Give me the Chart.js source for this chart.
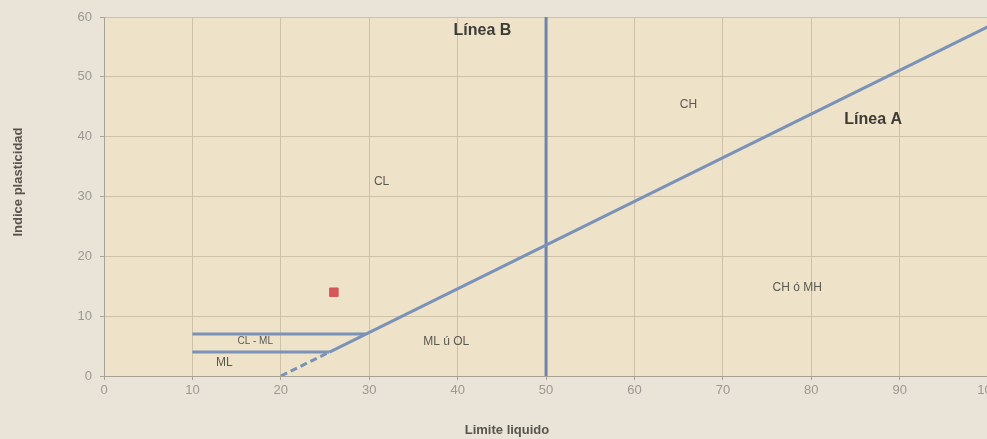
<!DOCTYPE html>
<html><head><meta charset="utf-8">
<script src="https://cdn.jsdelivr.net/npm/chart.js@4/dist/chart.umd.min.js"></script>
<style>
html,body{margin:0;padding:0;overflow:hidden;background:#e9e4d7;}
#wrap{width:1002px;height:439px;position:relative;}
</style></head>
<body><div id="wrap"><canvas id="c" width="1002" height="439"></canvas></div>
<script>
// ---- data ----
const xTicks = [0,10,20,30,40,50,60,70,80,90,100];
const yTicks = [0,10,20,30,40,50,60];
const lineA_LL = [25.5, 100];
const lineA_PI = [4, 58.4];
const lineAdash_LL = [20, 25.5];
const lineAdash_PI = [0, 4];
const lineB_LL = [50, 50];
const lineB_PI = [0, 60];
const clml_LL = [10, 29.6];
const clml_PI = [7, 7];
const ml_LL = [10, 25.5];
const ml_PI = [4, 4];
const sample_LL = [26];
const sample_PI = [14];
const zoneLabels = ["Línea B","Línea A","CH","CL","CH ó MH","ML ú OL","CL - ML","ML"];
const zoneLL = [42.8, 87.0, 66.1, 31.4, 78.4, 38.7, 17.1, 13.6];
const zonePI = [57.8, 42.8, 45.3, 32.4, 14.7, 5.7, 5.8, 2.3];
const xTitle = "Limite liquido";
const yTitle = "Indice plasticidad";

const pts = (xs, ys) => xs.map((x,i)=>({x, y: ys[i]}));
const blue = '#7a92b8';
const FONT = '"Liberation Sans", Arial, sans-serif';

const bgPlugin = {
  id:'bg',
  beforeDraw(chart){
    const {ctx, chartArea:a} = chart;
    ctx.save();
    ctx.fillStyle = '#e9e4d7';
    ctx.fillRect(0,0,chart.width,chart.height);
    ctx.fillStyle = '#eee3c8';
    ctx.fillRect(a.left, a.top, a.right-a.left, a.bottom-a.top);
    ctx.restore();
  },
  afterDraw(chart){
    const {ctx, scales:{x,y}} = chart;
    ctx.save();
    ctx.textAlign='center'; ctx.textBaseline='middle';
    zoneLabels.forEach((t,i)=>{
      const bold = t.startsWith('Línea');
      let size = bold ? 16 : 12;
      if (t === 'CL - ML') size = 10;
      ctx.font = (bold?'bold ':'') + size + 'px ' + FONT;
      ctx.fillStyle = bold ? '#3d3b36' : '#5a5852';
      ctx.fillText(t, x.getPixelForValue(zoneLL[i]), y.getPixelForValue(zonePI[i]));
    });
    ctx.font = 'bold 13px ' + FONT;
    ctx.fillStyle = '#57554f';
    ctx.fillText(xTitle, 507, 430);
    ctx.translate(18, 182);
    ctx.rotate(-Math.PI/2);
    ctx.fillText(yTitle, 0, 0);
    ctx.restore();
  }
};

new Chart(document.getElementById('c'), {
  type:'scatter',
  data:{datasets:[
    {data:pts(lineA_LL,lineA_PI), showLine:true, borderColor:blue, borderWidth:3, pointRadius:0},
    {data:pts(lineAdash_LL,lineAdash_PI), showLine:true, borderColor:blue, borderWidth:3, borderDash:[7,4], pointRadius:0},
    {data:pts(lineB_LL,lineB_PI), showLine:true, borderColor:'#6f84ad', borderWidth:3, pointRadius:0},
    {data:pts(clml_LL,clml_PI), showLine:true, borderColor:blue, borderWidth:3, pointRadius:0},
    {data:pts(ml_LL,ml_PI), showLine:true, borderColor:blue, borderWidth:3, pointRadius:0},
    {data:pts(sample_LL,sample_PI), showLine:false, pointStyle:'rect', pointRadius:6, backgroundColor:'#d4575a', borderColor:'#d4575a'}
  ]},
  plugins:[bgPlugin],
  options:{
    responsive:false, animation:false,
    layout:{padding:{top:17, right:0, left:0, bottom:0}},
    plugins:{legend:{display:false}, tooltip:{enabled:false}},
    scales:{
      x:{type:'linear', min:0, max:100,
        afterBuildTicks(s){ s.ticks = xTicks.map(v=>({value:v})); },
        afterFit(s){ s.height = 63; },
        grid:{color:'#cdc2a8', lineWidth:1, tickLength:4, tickColor:'#a8a294'},
        border:{color:'#a8a294'},
        ticks:{color:'#9a9892', font:{size:13, family:FONT}, padding:3, maxRotation:0}
      },
      y:{type:'linear', min:0, max:60,
        afterBuildTicks(s){ s.ticks = yTicks.map(v=>({value:v})); },
        afterFit(s){ s.width = 104; },
        grid:{color:'#cdc2a8', lineWidth:1, tickLength:4, tickColor:'#a8a294'},
        border:{color:'#a8a294'},
        ticks:{color:'#9a9892', font:{size:13, family:FONT}, padding:8}
      }
    }
  }
});
</script></body></html>
